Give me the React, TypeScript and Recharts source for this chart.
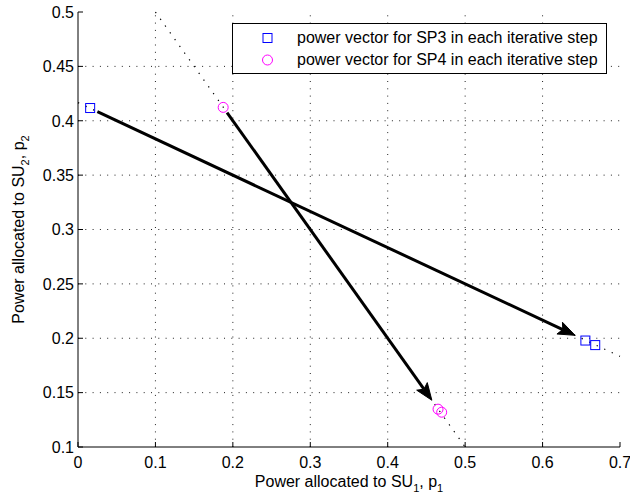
import { ScatterChart, Scatter, XAxis, YAxis, ReferenceLine } from 'recharts'

// axis ticks
const xTicks = [0, 0.1, 0.2, 0.3, 0.4, 0.5, 0.6, 0.7]
const yTicks = [0.1, 0.15, 0.2, 0.25, 0.3, 0.35, 0.4, 0.45, 0.5]

// power vectors at each iterative step
const sp3Points = [
    { x: 0.0157, y: 0.4117 },
    { x: 0.6553, y: 0.1979 },
    { x: 0.668, y: 0.1937 },
]
const sp4Points = [
    { x: 0.1875, y: 0.4123 },
    { x: 0.465, y: 0.1348 },
    { x: 0.4697, y: 0.132 },
]

// constraint lines (dotted)
const sp3Line = [
    { x: 0, y: 0.4167 },
    { x: 0.7, y: 0.1833 },
]
const sp4Line = [
    { x: 0.1, y: 0.5 },
    { x: 0.5, y: 0.1 },
]

// arrows between steps
const sp3Arrow = [
    { x: 0.025, y: 0.4083 },
    { x: 0.642, y: 0.2027 },
]
const sp4Arrow = [
    { x: 0.1925, y: 0.4075 },
    { x: 0.457, y: 0.143 },
]

const legendNames = [
    'power vector for SP3 in each iterative step',
    'power vector for SP4 in each iterative step',
]

const FONT = '"Liberation Sans", Arial, Helvetica, sans-serif'
const FS = 16

const Square = (props: any) => {
    const { cx, cy } = props
    if (cx == null || cy == null) return <g />
    return <rect x={cx - 4.5} y={cy - 4.5} width={9} height={9} fill="none" stroke="#0000ff" strokeWidth={1} />
}

const Ring = (props: any) => {
    const { cx, cy } = props
    if (cx == null || cy == null) return <g />
    return <circle cx={cx} cy={cy} r={5} fill="none" stroke="#ff00ff" strokeWidth={1} />
}

const Arrow = (props: any) => {
    const { x1, y1, x2, y2 } = props
    if ([x1, y1, x2, y2].some(v => v == null || isNaN(v))) return <g />
    const dx = x2 - x1
    const dy = y2 - y1
    const len = Math.sqrt(dx * dx + dy * dy)
    const ux = dx / len
    const uy = dy / len
    const head = 17
    const half = 6.5
    const bx = x2 - ux * head
    const by = y2 - uy * head
    const nx = x2 - ux * head * 0.8
    const ny = y2 - uy * head * 0.8
    const pts = [
        [x2, y2],
        [bx - uy * half, by + ux * half],
        [nx, ny],
        [bx + uy * half, by - ux * half],
    ]
    return (
        <g>
            <line x1={x1} y1={y1} x2={nx} y2={ny} stroke="#000" strokeWidth={3} />
            <polygon points={pts.map(p => p.join(',')).join(' ')} fill="#000" stroke="#000" strokeWidth={1} />
        </g>
    )
}

const BottomTick = (props: any) => {
    const { x, y, payload } = props
    return (
        <g>
            <line x1={x} x2={x} y1={y} y2={y - 5} stroke="#000" />
            <text x={x} y={y + 21} textAnchor="middle" fontSize={FS} fontFamily={FONT} fill="#000">
                {String(payload.value)}
            </text>
        </g>
    )
}

const LeftTick = (props: any) => {
    const { x, y, payload } = props
    return (
        <g>
            <line x1={x} x2={x + 5} y1={y} y2={y} stroke="#000" />
            <text x={x - 4} y={y} dy="0.36em" textAnchor="end" fontSize={FS} fontFamily={FONT} fill="#000">
                {String(payload.value)}
            </text>
        </g>
    )
}

const TopTick = (props: any) => {
    const { x, y } = props
    return <line x1={x} x2={x} y1={y} y2={y + 5} stroke="#000" />
}

const RightTick = (props: any) => {
    const { x, y } = props
    return <line x1={x} x2={x - 5} y1={y} y2={y} stroke="#000" />
}

const XLabel = (props: any) => {
    const vb = props.viewBox || {}
    const cx = vb.x + vb.width / 2
    return (
        <text x={cx} y={vb.y + 40} textAnchor="middle" fontSize={FS} fontFamily={FONT} fill="#000">
            <tspan>Power allocated to SU</tspan>
            <tspan dy={5} fontSize={11}>1</tspan>
            <tspan dy={-5}>, p</tspan>
            <tspan dy={5} fontSize={11}>1</tspan>
        </text>
    )
}

const YLabel = (props: any) => {
    const vb = props.viewBox || {}
    const cy = vb.y + vb.height / 2
    const x = 24
    return (
        <text x={x} y={cy} transform={`rotate(-90 ${x} ${cy})`} textAnchor="middle" fontSize={FS} fontFamily={FONT} fill="#000">
            <tspan>Power allocated to SU</tspan>
            <tspan dy={5} fontSize={11}>2</tspan>
            <tspan dy={-5}>, p</tspan>
            <tspan dy={5} fontSize={11}>2</tspan>
        </text>
    )
}

const gridStyle = { stroke: '#222', strokeWidth: 1, strokeDasharray: '1 6.3' }

export default function App() {
    return (
        <div style={{ position: 'absolute', left: 0, top: 0, width: 630, height: 498, background: '#fff' }}>
            <ScatterChart width={630} height={498} margin={{ top: 12, right: 10, left: 0, bottom: 0 }}>
                <XAxis
                    dataKey="x"
                    type="number"
                    domain={[0, 0.7]}
                    ticks={xTicks}
                    interval={0}
                    height={51}
                    tickSize={0}
                    tickMargin={0}
                    tickLine={false}
                    tick={BottomTick}
                    axisLine={{ stroke: '#000' }}
                    label={{ content: XLabel }}
                />
                <XAxis
                    xAxisId="top"
                    orientation="top"
                    type="number"
                    domain={[0, 0.7]}
                    ticks={xTicks}
                    interval={0}
                    height={0}
                    tickSize={0}
                    tickMargin={0}
                    tickLine={false}
                    tick={TopTick}
                    axisLine={{ stroke: '#000' }}
                />
                <YAxis
                    dataKey="y"
                    type="number"
                    domain={[0.1, 0.5]}
                    ticks={yTicks}
                    interval={0}
                    width={78}
                    tickSize={0}
                    tickMargin={0}
                    tickLine={false}
                    tick={LeftTick}
                    axisLine={{ stroke: '#000' }}
                    label={{ content: YLabel }}
                />
                <YAxis
                    yAxisId="right"
                    orientation="right"
                    type="number"
                    domain={[0.1, 0.5]}
                    ticks={yTicks}
                    interval={0}
                    width={0}
                    tickSize={0}
                    tickMargin={0}
                    tickLine={false}
                    tick={RightTick}
                    axisLine={{ stroke: '#000' }}
                />
                {xTicks.slice(1, -1).map(v => (
                    <ReferenceLine key={'gx' + v} x={v} {...gridStyle} />
                ))}
                {yTicks.slice(1, -1).map(v => (
                    <ReferenceLine key={'gy' + v} y={v} {...gridStyle} />
                ))}
                <ReferenceLine
                    segment={sp3Line}
                    stroke="#000"
                    strokeWidth={1.2}
                    strokeDasharray="1.3 7"
                    ifOverflow="visible"
                />
                <ReferenceLine
                    segment={sp4Line}
                    stroke="#000"
                    strokeWidth={1.2}
                    strokeDasharray="1.3 7"
                    ifOverflow="visible"
                />
                <ReferenceLine segment={sp3Arrow} shape={Arrow} ifOverflow="visible" />
                <ReferenceLine segment={sp4Arrow} shape={Arrow} ifOverflow="visible" />
                <Scatter name={legendNames[0]} data={sp3Points} shape={Square} isAnimationActive={false} />
                <Scatter name={legendNames[1]} data={sp4Points} shape={Ring} isAnimationActive={false} />
            </ScatterChart>
            <div
                style={{
                    position: 'absolute',
                    left: 232,
                    top: 23,
                    width: 373,
                    height: 49,
                    border: '1px solid #000',
                    background: '#fff',
                    fontFamily: FONT,
                    fontSize: FS,
                }}
            >
                {legendNames.map((name, i) => (
                    <div
                        key={name}
                        style={{ position: 'absolute', left: 0, top: 4 + i * 21.6, height: 20, display: 'flex', alignItems: 'center' }}
                    >
                        <svg width={60} height={20} style={{ display: 'block' }}>
                            {i === 0 ? (
                                <rect x={30} y={5.5} width={9} height={9} fill="none" stroke="#0000ff" />
                            ) : (
                                <circle cx={34.5} cy={10} r={5} fill="none" stroke="#ff00ff" />
                            )}
                        </svg>
                        <span style={{ marginLeft: 4, whiteSpace: 'nowrap' }}>{name}</span>
                    </div>
                ))}
            </div>
        </div>
    )
}
